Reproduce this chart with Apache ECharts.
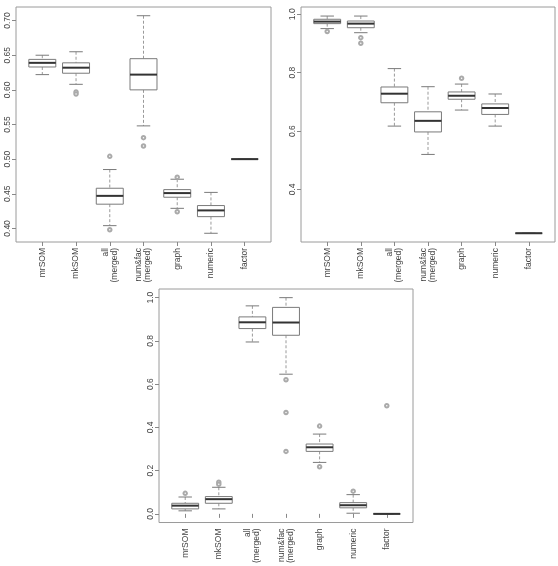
<!DOCTYPE html>
<html>
<head>
<meta charset="utf-8">
<script src="https://cdn.jsdelivr.net/npm/echarts@6/dist/echarts.min.js"></script>
<style>
html,body{margin:0;padding:0;background:#fff;}
#chart{width:558px;height:566px;}
</style>
</head>
<body>
<div id="chart"></div>
<script>
// ---------- data ----------
const categories = ['mrSOM', 'mkSOM', 'all\n(merged)', 'num&fac\n(merged)', 'graph', 'numeric', 'factor'];

// [lower whisker, Q1, median, Q3, upper whisker]
const panel1Stats = [
  [0.622, 0.633, 0.639, 0.644, 0.650],
  [0.608, 0.624, 0.632, 0.639, 0.655],
  [0.404, 0.435, 0.447, 0.458, 0.485],
  [0.548, 0.600, 0.622, 0.645, 0.707],
  [0.429, 0.445, 0.451, 0.456, 0.471],
  [0.393, 0.417, 0.426, 0.433, 0.452],
  [0.500, 0.500, 0.500, 0.500, 0.500]
];
// [category position (1-based), value]
const panel1Outliers = [[2, 0.597], [2, 0.594], [3, 0.504], [3, 0.398], [4, 0.531], [4, 0.519], [5, 0.474], [5, 0.424]];
const panel1Ticks = [0.40, 0.45, 0.50, 0.55, 0.60, 0.65, 0.70];

const panel2Stats = [
  [0.951, 0.968, 0.975, 0.983, 0.994],
  [0.937, 0.954, 0.968, 0.977, 0.994],
  [0.617, 0.697, 0.728, 0.751, 0.814],
  [0.520, 0.597, 0.635, 0.666, 0.752],
  [0.672, 0.709, 0.721, 0.734, 0.761],
  [0.617, 0.657, 0.679, 0.693, 0.727],
  [0.250, 0.250, 0.250, 0.250, 0.250]
];
const panel2Outliers = [[1, 0.941], [2, 0.920], [2, 0.901], [5, 0.781]];
const panel2Ticks = [0.4, 0.6, 0.8, 1.0];

const panel3Stats = [
  [0.014, 0.023, 0.038, 0.049, 0.078],
  [0.023, 0.049, 0.068, 0.080, 0.123],
  [0.795, 0.857, 0.886, 0.911, 0.962],
  [0.646, 0.826, 0.885, 0.955, 1.000],
  [0.238, 0.289, 0.308, 0.323, 0.369],
  [0.003, 0.028, 0.040, 0.052, 0.089],
  [0.000, 0.000, 0.000, 0.000, 0.000]
];
const panel3Outliers = [[1, 0.095], [2, 0.146], [2, 0.137], [4, 0.620], [4, 0.469], [4, 0.289], [5, 0.406], [5, 0.218], [6, 0.105], [7, 0.500]];
const panel3Ticks = [0.0, 0.2, 0.4, 0.6, 0.8, 1.0];

const catPositions = [1, 2, 3, 4, 5, 6, 7];

// ---------- chart ----------
const FONT = 'Liberation Sans, Arial, sans-serif';
const chart = echarts.init(document.getElementById('chart'), null, {renderer: 'canvas'});

function grid(left, top, width, height) {
  return {left, top, width, height, show: true, borderColor: '#9a9a9a', borderWidth: 1, backgroundColor: '#fff', containLabel: false};
}

function xAxis(gridIndex) {
  return {
    type: 'value', gridIndex, min: 0.22, max: 7.78,
    splitLine: {show: false},
    axisLine: {show: false},
    axisTick: {show: true, customValues: catPositions, length: 4, lineStyle: {color: '#888'}},
    axisLabel: {
      customValues: catPositions, rotate: 90, margin: 6,
      fontFamily: FONT, fontSize: 8.5, color: '#444', lineHeight: 9,
      formatter: v => categories[Math.round(v) - 1]
    }
  };
}

function yAxis(gridIndex, min, max, ticks, digits) {
  return {
    type: 'value', gridIndex, min, max,
    splitLine: {show: false},
    axisLine: {show: false},
    axisTick: {show: true, customValues: ticks, length: 4, lineStyle: {color: '#888'}},
    axisLabel: {
      customValues: ticks, rotate: 90, margin: 4,
      fontFamily: FONT, fontSize: 8.5, color: '#444',
      formatter: v => Number(v).toFixed(digits)
    }
  };
}

function renderBox(params, api) {
  const x = api.value(0);
  const lo = api.coord([x, api.value(1)]);
  const q1 = api.coord([x, api.value(2)]);
  const med = api.coord([x, api.value(3)]);
  const q3 = api.coord([x, api.value(4)]);
  const hi = api.coord([x, api.value(5)]);
  const half = api.size([0.8, 0])[0] / 2;
  const staple = half / 2;
  const cx = med[0];
  const dashed = {stroke: '#9a9a9a', lineWidth: 1, lineDash: [3, 2]};
  return {
    type: 'group',
    children: [
      {type: 'line', shape: {x1: cx, y1: hi[1], x2: cx, y2: q3[1]}, style: dashed},
      {type: 'line', shape: {x1: cx, y1: q1[1], x2: cx, y2: lo[1]}, style: dashed},
      {type: 'line', shape: {x1: cx - staple, y1: hi[1], x2: cx + staple, y2: hi[1]}, style: {stroke: '#7a7a7a', lineWidth: 1}},
      {type: 'line', shape: {x1: cx - staple, y1: lo[1], x2: cx + staple, y2: lo[1]}, style: {stroke: '#7a7a7a', lineWidth: 1}},
      {type: 'rect', shape: {x: cx - half, y: q3[1], width: half * 2, height: q1[1] - q3[1]}, style: {stroke: '#7a7a7a', lineWidth: 1, fill: '#fff'}},
      {type: 'line', shape: {x1: cx - half, y1: med[1], x2: cx + half, y2: med[1]}, style: {stroke: '#333', lineWidth: 2}}
    ]
  };
}

function boxSeries(idx, stats) {
  return {
    type: 'custom', xAxisIndex: idx, yAxisIndex: idx,
    data: stats.map((s, i) => [catPositions[i]].concat(s)),
    encode: {x: 0, y: [1, 2, 3, 4, 5]},
    renderItem: renderBox, silent: true, clip: false, z: 2
  };
}

function outlierSeries(idx, pts) {
  return {
    type: 'scatter', xAxisIndex: idx, yAxisIndex: idx, data: pts,
    symbol: 'emptyCircle', symbolSize: 3.5, silent: true, z: 5,
    itemStyle: {color: '#aaa', borderColor: '#aaa', borderWidth: 0.8, opacity: 1}
  };
}

chart.setOption({
  animation: false,
  backgroundColor: '#fff',
  grid: [grid(16, 7, 255, 235), grid(301, 7, 254, 235), grid(159, 289, 254, 234)],
  xAxis: [xAxis(0), xAxis(1), xAxis(2)],
  yAxis: [
    yAxis(0, 0.3804, 0.7196, panel1Ticks, 2),
    yAxis(1, 0.22, 1.025, panel2Ticks, 1),
    yAxis(2, -0.04, 1.04, panel3Ticks, 1)
  ],
  series: [
    boxSeries(0, panel1Stats), outlierSeries(0, panel1Outliers),
    boxSeries(1, panel2Stats), outlierSeries(1, panel2Outliers),
    boxSeries(2, panel3Stats), outlierSeries(2, panel3Outliers)
  ]
});
</script>
</body>
</html>
